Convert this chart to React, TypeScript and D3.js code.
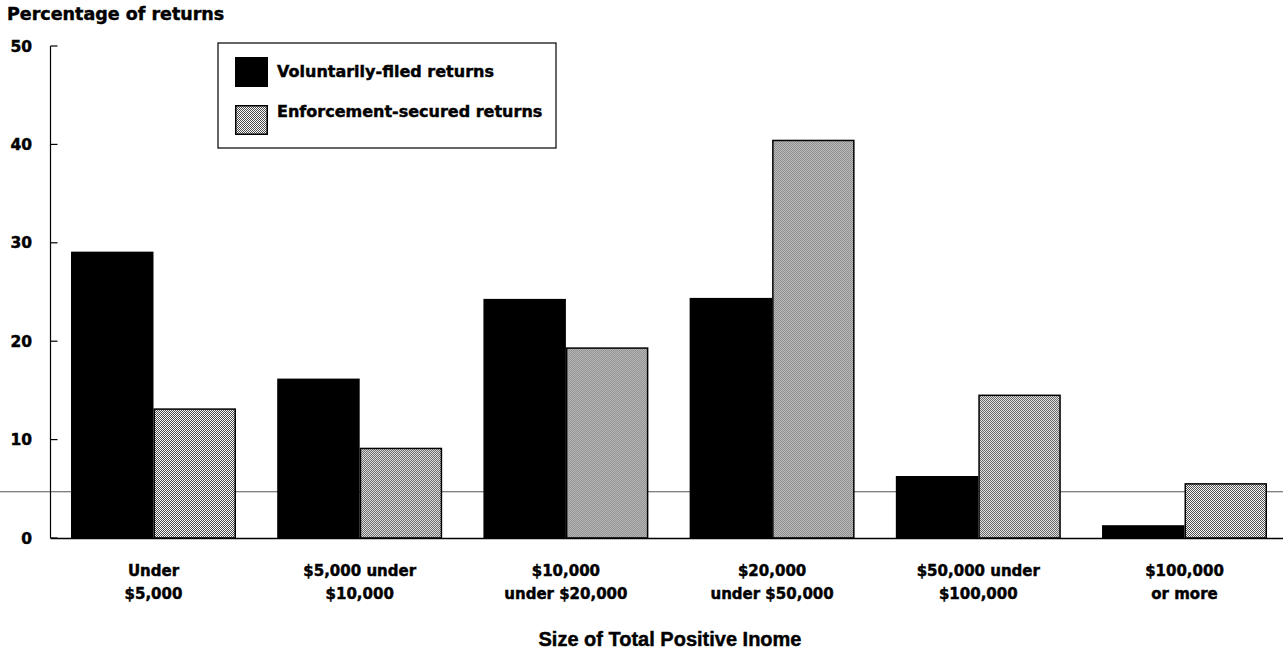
import React from "react";
import * as d3 from "d3";

const categories: string[][] = [
  ["Under", "$5,000"],
  ["$5,000 under", "$10,000"],
  ["$10,000", "under $20,000"],
  ["$20,000", "under $50,000"],
  ["$50,000 under", "$100,000"],
  ["$100,000", "or more"],
];
const voluntary = [29.1, 16.2, 24.3, 24.4, 6.3, 1.3];
const enforcement = [13.1, 9.1, 19.3, 40.4, 14.5, 5.5];
const yTicks = [0, 10, 20, 30, 40, 50];
const seriesNames = ["Voluntarily-filed returns", "Enforcement-secured returns"];
const scanLineValue = 4.7;

const W = 1283;
const H = 653;
const BOLD = "'DejaVu Sans', sans-serif";
const ARIAL = "'Liberation Sans', Arial, sans-serif";
const heavy = { stroke: "#000", strokeWidth: 0.45, paintOrder: "stroke" as const };

export default function App() {
  const y = d3.scaleLinear().domain([0, 50]).range([538, 46]);
  const x = d3
    .scaleBand<number>()
    .domain(categories.map((_, i) => i))
    .range([71, 1267])
    .paddingInner(0.2)
    .paddingOuter(0);
  const inner = d3
    .scaleBand<number>()
    .domain([0, 1])
    .range([0, x.bandwidth()])
    .padding(0);
  const axisX = 50.5;

  return (
    <svg
      width={W}
      height={H}
      style={{ position: "absolute", left: 0, top: 0, background: "#fff" }}
    >
      <defs>
        <pattern id="stip" width={2} height={2} patternUnits="userSpaceOnUse">
          <rect width={2} height={2} fill="#fff" />
          <rect x={0} y={0} width={1} height={1} fill="#4a4a4a" />
          <rect x={1} y={1} width={1} height={1} fill="#4a4a4a" />
        </pattern>
      </defs>

      {/* title */}
      <text x={7} y={20} fontFamily={BOLD} fontWeight="bold" fontSize={17.5} fill="#000" style={heavy}>
        Percentage of returns
      </text>

      {/* faint scan line */}
      <line x1={0} x2={W} y1={y(scanLineValue)} y2={y(scanLineValue)} stroke="#555" strokeWidth={1} />

      {/* bars */}
      {categories.map((_, i) => (
        <g key={i} transform={`translate(${x(i)},0)`}>
          <rect
            x={inner(0)}
            y={y(voluntary[i])}
            width={inner.bandwidth()}
            height={y(0) - y(voluntary[i])}
            fill="#000"
          />
          <rect
            x={inner(1)! + 0.75}
            y={y(enforcement[i])}
            width={inner.bandwidth() - 1.5}
            height={y(0) - y(enforcement[i])}
            fill="url(#stip)"
            stroke="#000"
            strokeWidth={1.5}
          />
        </g>
      ))}

      {/* y axis */}
      <line x1={axisX} x2={axisX} y1={y(50)} y2={y(0)} stroke="#000" strokeWidth={1.2} />
      <line x1={axisX} x2={W} y1={y(0) + 0.5} y2={y(0) + 0.5} stroke="#000" strokeWidth={1.3} />
      {yTicks.map((t) => (
        <g key={t}>
          <line x1={axisX} x2={axisX + 7} y1={y(t)} y2={y(t)} stroke="#000" strokeWidth={1.2} />
          <text
            x={32}
            y={y(t)}
            dy="0.36em"
            textAnchor="end"
            fontFamily={BOLD}
            fontWeight="bold"
            fontSize={15.5}
            fill="#000"
            style={heavy}
          >
            {t}
          </text>
        </g>
      ))}

      {/* x labels */}
      {categories.map((lines, i) => (
        <text
          key={i}
          x={x(i)! + x.bandwidth() / 2}
          y={576}
          textAnchor="middle"
          fontFamily={BOLD}
          fontWeight="bold"
          fontSize={15}
          fill="#000"
          style={heavy}
        >
          {lines.map((l, j) => (
            <tspan key={j} x={x(i)! + x.bandwidth() / 2} dy={j === 0 ? 0 : 23}>
              {l}
            </tspan>
          ))}
        </text>
      ))}

      <text
        x={670}
        y={646}
        textAnchor="middle"
        fontFamily={ARIAL}
        fontWeight="bold"
        fontSize={20}
        fill="#000"
        style={heavy}
      >
        Size of Total Positive Inome
      </text>

      {/* legend */}
      <rect x={218} y={43} width={338} height={105} fill="#fff" stroke="#000" strokeWidth={1.2} />
      <rect x={235} y={57} width={33} height={30} fill="#000" />
      <rect x={235.75} y={105.75} width={31.5} height={28.5} fill="url(#stip)" stroke="#000" strokeWidth={1.5} />
      {seriesNames.map((s, i) => (
        <text
          key={s}
          x={277}
          y={i === 0 ? 77 : 117}
          fontFamily={BOLD}
          fontWeight="bold"
          fontSize={16}
          fill="#000"
          style={heavy}
        >
          {s}
        </text>
      ))}
    </svg>
  );
}
